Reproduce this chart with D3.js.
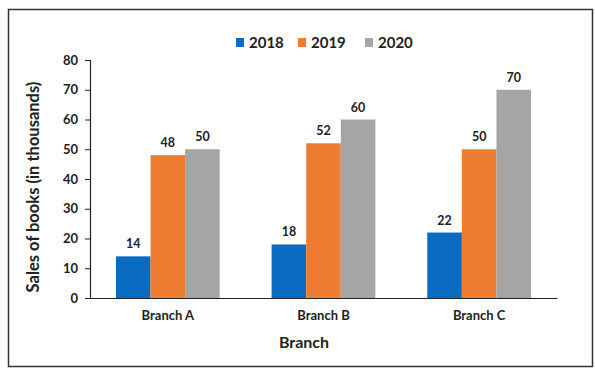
<!DOCTYPE html>
<html><head><meta charset="utf-8">
<script src="https://cdn.jsdelivr.net/npm/d3@7"></script>
<style>
html,body{margin:0;padding:0;background:#fff;}
svg{display:block;font-family:Lato,"Open Sans",sans-serif;}
</style></head>
<body>
<svg id="c" width="595" height="373"></svg>
<script>
const categories = ["Branch A", "Branch B", "Branch C"];
const seriesNames = ["2018", "2019", "2020"];
const values2018 = [14, 18, 22];
const values2019 = [48, 52, 50];
const values2020 = [50, 60, 70];
const yTicks = [0, 10, 20, 30, 40, 50, 60, 70, 80];
const colors = ["#0a6cc0", "#ee7d31", "#a5a5a5"];
const seriesValues = [values2018, values2019, values2020];

(function () {
const svg = d3.select("#c");
svg.append("rect").attr("x", 8.5).attr("y", 9.5).attr("width", 584).attr("height", 357)
  .attr("fill", "#fff").attr("stroke", "#333").attr("stroke-width", 1.5);

const mLeft = 90, mRight = 557, mTop = 60, mBottom = 298;
const x0 = d3.scaleBand().domain(categories).range([mLeft, mRight]);
const x1 = d3.scaleBand().domain(seriesNames).range([0, x0.bandwidth()]).paddingInner(0).paddingOuter(0.75);
const y = d3.scaleLinear().domain([0, 80]).range([mBottom, mTop]);

const rows = categories.map((c, i) => ({cat: c, vals: seriesNames.map((s, j) => ({s, v: seriesValues[j][i], j}))}));

const g = svg.append("g");
const grp = g.selectAll("g.grp").data(rows).join("g").attr("transform", d => `translate(${x0(d.cat)},0)`);
grp.selectAll("rect").data(d => d.vals).join("rect")
  .attr("x", d => x1(d.s)).attr("width", x1.bandwidth())
  .attr("y", d => y(d.v)).attr("height", d => y(0) - y(d.v))
  .attr("fill", d => colors[d.j]);
grp.selectAll("text").data(d => d.vals).join("text")
  .attr("x", d => x1(d.s) + x1.bandwidth() / 2).attr("y", d => y(d.v) - 8)
  .attr("text-anchor", "middle").attr("font-size", 12.5).attr("font-weight", "bold").attr("fill", "#222")
  .text(d => d.v);

const yAxis = d3.axisLeft(y).tickValues(yTicks).tickSize(5).tickPadding(7);
const ya = svg.append("g").attr("transform", `translate(${mLeft},0)`).call(yAxis);
ya.select(".domain").attr("stroke", "#222").attr("stroke-width", 1.2);
ya.selectAll(".tick line").attr("stroke", "#222");
ya.selectAll(".tick text").attr("font-size", 13).attr("font-weight", "bold").attr("fill", "#222").attr("font-family", "Lato");

const xAxis = d3.axisBottom(x0).tickSize(0).tickPadding(13);
const xa = svg.append("g").attr("transform", `translate(0,${mBottom})`).call(xAxis);
xa.select(".domain").attr("stroke", "#222").attr("stroke-width", 1.2);
xa.selectAll(".tick text").attr("font-size", 13).attr("font-weight", "bold").attr("fill", "#222").attr("font-family", "Lato");

svg.append("text").attr("x", 304).attr("y", 348).attr("text-anchor", "middle")
  .attr("font-size", 16).attr("font-weight", "bold").attr("fill", "#222").text("Branch");
svg.append("text").attr("transform", "translate(39,187) rotate(-90)").attr("text-anchor", "middle")
  .attr("font-size", 16.5).attr("font-weight", "bold").attr("fill", "#222").text("Sales of books (in thousands)");

const legX = [236, 298, 365];
const leg = svg.append("g").selectAll("g").data(seriesNames).join("g")
  .attr("transform", (d, i) => `translate(${legX[i]},38)`);
leg.append("rect").attr("width", 8).attr("height", 9).attr("fill", (d, i) => colors[i]);
leg.append("text").attr("x", 13).attr("y", 9.5).attr("font-size", 15).attr("font-weight", "bold").attr("fill", "#222").text(d => d);
})();
</script>
</body></html>
